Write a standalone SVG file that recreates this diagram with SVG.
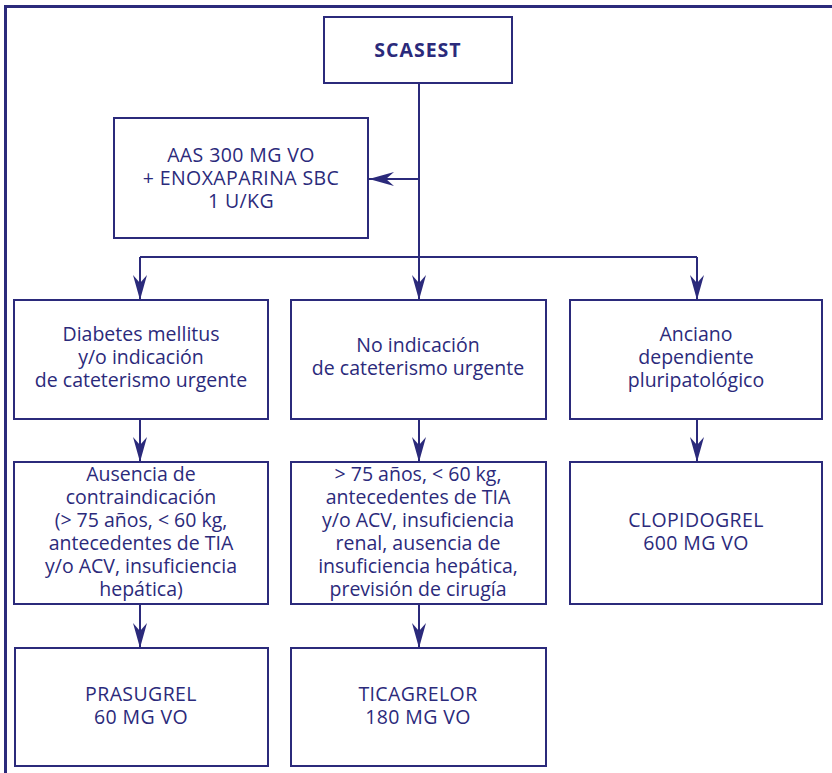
<svg xmlns="http://www.w3.org/2000/svg" width="832" height="773" viewBox="0 0 832 773">
<defs>
<style>
.box{fill:#fff;stroke:#2b2a7b;stroke-width:2}
.ln{fill:none;stroke:#2b2a7b;stroke-width:2}
.frame{fill:none;stroke:#2b2a7b;stroke-width:3}
text{font-family:"Open Sans","Noto Sans","Liberation Sans",sans-serif;font-size:19.5px;fill:#2b2a7b;text-anchor:middle}
.c{letter-spacing:0.4px}
.b{font-weight:bold;letter-spacing:1px}
</style>
<marker id="ah" markerUnits="userSpaceOnUse" markerWidth="26" markerHeight="14" refX="25" refY="7" orient="auto" viewBox="0 0 26 14">
<path d="M0,0 L25,7 L0,14 L8,7 Z" fill="#2b2a7b"/>
</marker>
</defs>
<rect width="832" height="773" fill="#fff"/>
<path class="frame" d="M5.5,773 V6.5 H832"/>
<g id="connectors">
<path class="ln" d="M419,83 V257"/>
<path class="ln" d="M419,179 H369" marker-end="url(#ah)"/>
<path class="ln" d="M140,257 H697"/>
<path class="ln" d="M140,257 V300" marker-end="url(#ah)"/>
<path class="ln" d="M419,257 V300" marker-end="url(#ah)"/>
<path class="ln" d="M697,257 V300" marker-end="url(#ah)"/>
<path class="ln" d="M140,419 V462" marker-end="url(#ah)"/>
<path class="ln" d="M419,419 V462" marker-end="url(#ah)"/>
<path class="ln" d="M697,419 V462" marker-end="url(#ah)"/>
<path class="ln" d="M140,604 V648" marker-end="url(#ah)"/>
<path class="ln" d="M419,604 V648" marker-end="url(#ah)"/>
</g>
<g id="scasest">
<rect class="box" x="324" y="17" width="188" height="66"/>
<text class="b" x="418" y="57">SCASEST</text>
</g>
<g id="aas">
<rect class="box" x="114" y="118" width="254" height="120"/>
<text class="c" x="241" y="162">AAS 300 MG VO</text>
<text class="c" x="241" y="185">+ ENOXAPARINA SBC</text>
<text class="c" x="241" y="208">1 U/KG</text>
</g>
<g id="diabetes">
<rect class="box" x="14" y="300" width="254" height="119"/>
<text x="141" y="341">Diabetes mellitus</text>
<text x="141" y="364">y/o indicación</text>
<text x="141" y="387">de cateterismo urgente</text>
</g>
<g id="noindicacion">
<rect class="box" x="291" y="300" width="255" height="119"/>
<text x="418" y="352">No indicación</text>
<text x="418" y="375">de cateterismo urgente</text>
</g>
<g id="anciano">
<rect class="box" x="570" y="300" width="252" height="119"/>
<text x="696" y="341">Anciano</text>
<text x="696" y="364">dependiente</text>
<text x="696" y="387">pluripatológico</text>
</g>
<g id="ausencia">
<rect class="box" x="14" y="462" width="254" height="142"/>
<text x="141" y="481">Ausencia de</text>
<text x="141" y="504">contraindicación</text>
<text x="141" y="527">(&gt; 75 años, &lt; 60 kg,</text>
<text x="141" y="550">antecedentes de TIA</text>
<text x="141" y="573">y/o ACV, insuficiencia</text>
<text x="141" y="596">hepática)</text>
</g>
<g id="mayor75">
<rect class="box" x="291" y="462" width="255" height="142"/>
<text x="418" y="481">&gt; 75 años, &lt; 60 kg,</text>
<text x="418" y="504">antecedentes de TIA</text>
<text x="418" y="527">y/o ACV, insuficiencia</text>
<text x="418" y="550">renal, ausencia de</text>
<text x="418" y="573">insuficiencia hepática,</text>
<text x="418" y="596">previsión de cirugía</text>
</g>
<g id="clopidogrel">
<rect class="box" x="570" y="462" width="252" height="142"/>
<text class="c" x="696" y="527">CLOPIDOGREL</text>
<text class="c" x="696" y="550">600 MG VO</text>
</g>
<g id="prasugrel">
<rect class="box" x="15" y="648" width="253" height="118"/>
<text class="c" x="141" y="701">PRASUGREL</text>
<text class="c" x="141" y="724">60 MG VO</text>
</g>
<g id="ticagrelor">
<rect class="box" x="291" y="648" width="255" height="118"/>
<text class="c" x="418" y="701">TICAGRELOR</text>
<text class="c" x="418" y="724">180 MG VO</text>
</g>
</svg>
